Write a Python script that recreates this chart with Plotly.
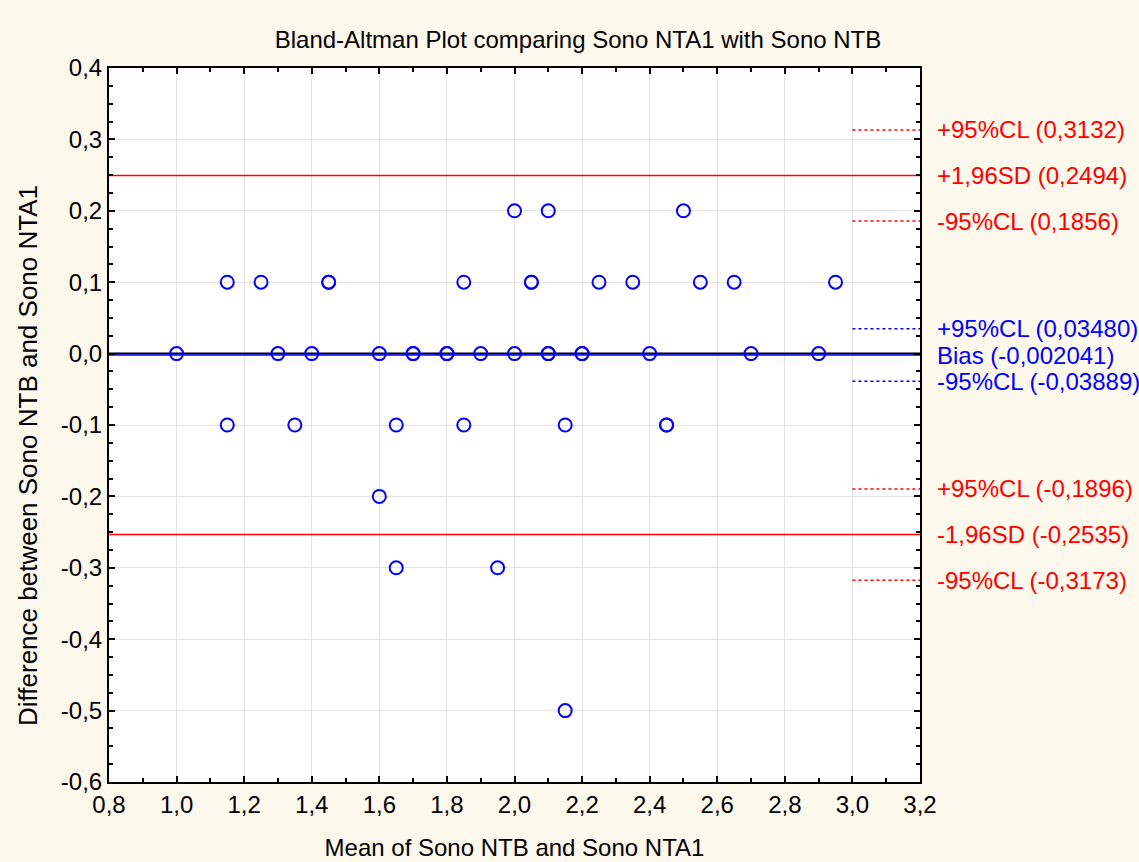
import plotly.graph_objects as go

# Data (mean, difference)
mean_vals = [1.15, 1.25, 1.45, 1.45, 1.85, 2.05, 2.05, 2.25, 2.35, 2.55, 2.65, 2.95,
             2.0, 2.1, 2.5,
             1.0, 1.3, 1.4, 1.6, 1.7, 1.7, 1.8, 1.8, 1.9, 2.0, 2.1, 2.1, 2.2, 2.2, 2.4, 2.7, 2.9,
             1.15, 1.35, 1.65, 1.85, 2.15, 2.45, 2.45,
             1.6,
             1.65, 1.95,
             2.15]
diff_vals = [0.1] * 12 + [0.2] * 3 + [0.0] * 17 + [-0.1] * 7 + [-0.2] + [-0.3] * 2 + [-0.5]

bias = -0.002041
sd_upper = 0.2494
sd_lower = -0.2535
red_cl = [0.3132, 0.1856, -0.1896, -0.3173]
blue_cl = [0.03480, -0.03889]

labels_red = [("+95%CL (0,3132)", 0.3132), ("+1,96SD (0,2494)", 0.2494), ("-95%CL (0,1856)", 0.1856),
              ("+95%CL (-0,1896)", -0.1896), ("-1,96SD (-0,2535)", -0.2535), ("-95%CL (-0,3173)", -0.3173)]
labels_blue = [("+95%CL (0,03480)", 0.03480), ("Bias (-0,002041)", -0.002041), ("-95%CL (-0,03889)", -0.03889)]

x_ticks = [0.8, 1.0, 1.2, 1.4, 1.6, 1.8, 2.0, 2.2, 2.4, 2.6, 2.8, 3.0, 3.2]
y_ticks = [0.4, 0.3, 0.2, 0.1, 0.0, -0.1, -0.2, -0.3, -0.4, -0.5, -0.6]

XMIN, XMAX = 0.8, 3.2
CL_X0 = 3.0


def fmt(v):
    return f"{v:.1f}".replace(".", ",")


FONT = "Liberation Sans, Arial, sans-serif"
FS = 24
fig = go.Figure()

# full-width lines
for yv, col, w in [(0.0, "black", 2), (bias, "#0000ff", 1.5), (sd_upper, "#ff0000", 1.5), (sd_lower, "#ff0000", 1.5)]:
    fig.add_trace(go.Scatter(x=[XMIN, XMAX], y=[yv, yv], mode="lines",
                             line=dict(color=col, width=w), showlegend=False, hoverinfo="skip"))
# short dotted CL segments
for yv in red_cl:
    fig.add_trace(go.Scatter(x=[CL_X0, XMAX], y=[yv, yv], mode="lines",
                             line=dict(color="#ff0000", width=1.5, dash="dot"), showlegend=False, hoverinfo="skip"))
for yv in blue_cl:
    fig.add_trace(go.Scatter(x=[CL_X0, XMAX], y=[yv, yv], mode="lines",
                             line=dict(color="#0000ff", width=1.5, dash="dot"), showlegend=False, hoverinfo="skip"))

fig.add_trace(go.Scatter(x=mean_vals, y=diff_vals, mode="markers",
                         marker=dict(symbol="circle-open", size=13, color="#0000ff", line=dict(width=2)),
                         showlegend=False))

annotations = []
for txt, yv in labels_red:
    annotations.append(dict(text=txt, x=1.018, xref="paper", y=yv, yref="y", xanchor="left", yanchor="middle",
                            showarrow=False, font=dict(color="#ff0000", size=FS, family=FONT)))
for txt, yv in labels_blue:
    annotations.append(dict(text=txt, x=1.018, xref="paper", y=yv, yref="y", xanchor="left", yanchor="middle",
                            showarrow=False, font=dict(color="#0000ff", size=FS, family=FONT)))
# y-axis title
annotations.append(dict(text="Difference between Sono NTB and Sono NTA1", textangle=-90,
                        x=(28 - 109) / 811, xref="paper", xanchor="center",
                        y=(782 - 456) / 714, yref="paper", yanchor="middle",
                        showarrow=False, font=dict(color="black", size=26, family=FONT)))

axis_common = dict(showline=True, linecolor="black", linewidth=2, mirror="ticks", ticks="inside",
                   tickcolor="black", ticklen=6, tickwidth=2, showgrid=True, gridcolor="#e3e3e3",
                   gridwidth=1, zeroline=False, automargin=False,
                   tickfont=dict(size=FS, color="black", family=FONT))

fig.update_layout(
    width=1139, height=862,
    paper_bgcolor="#fdf8ec", plot_bgcolor="white",
    margin=dict(l=109, r=219, t=68, b=80),
    font=dict(family=FONT, color="black"),
    title=dict(text="Bland-Altman Plot comparing Sono NTA1 with Sono NTB", x=578 / 1139,
               xanchor="center", y=1 - 40 / 862, yanchor="middle", font=dict(size=FS)),
    annotations=annotations,
    xaxis=dict(range=[XMIN, XMAX], tickvals=x_ticks, ticktext=[fmt(v) for v in x_ticks],
               minor=dict(dtick=0.1, ticks="inside", ticklen=4, tickcolor="black", showgrid=False),
               title=dict(text="Mean of Sono NTB and Sono NTA1", font=dict(size=FS), standoff=22),
               **axis_common),
    yaxis=dict(range=[-0.6, 0.4], tickvals=y_ticks, ticktext=[fmt(v) for v in y_ticks],
               minor=dict(dtick=0.025, ticks="inside", ticklen=4, tickcolor="black", showgrid=False),
               **axis_common),
)

fig.write_html("out.html", config={"displayModeBar": False},
               post_script="document.body.style.margin='0';")
